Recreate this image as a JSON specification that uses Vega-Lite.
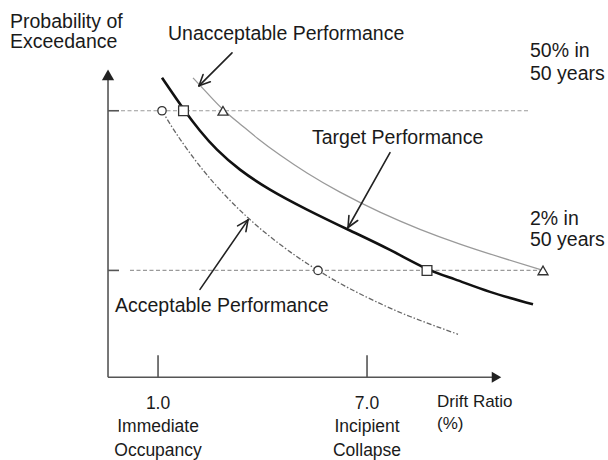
{
  "$schema": "https://vega.github.io/schema/vega-lite/v6.json",
  "width": 608,
  "height": 460,
  "autosize": {"type": "fit", "contains": "padding"},
  "padding": 0,
  "background": "white",
  "config": {"view": {"stroke": null}},
  "encoding": {
    "x": {"field": "x", "type": "quantitative", "scale": {"domain": [-3.537, 13.918], "nice": false, "zero": false}, "axis": null},
    "y": {"field": "y", "type": "quantitative", "scale": {"domain": [-54.7, 83.3], "nice": false, "zero": false}, "axis": null}
  },
  "layer": [
    {
      "data": {"values": [
        {"x": -0.063, "y": 50, "x2": 11.679, "y2": 50},
        {"x": 0.195, "y": 2, "x2": 12.052, "y2": 2}
      ]},
      "mark": {"type": "rule", "color": "#9a9a9a", "strokeWidth": 1.2, "strokeDash": [4, 2.5]},
      "encoding": {"x2": {"field": "x2"}, "y2": {"field": "y2"}}
    },
    {
      "data": {"values": [
        {"x": -0.436, "y": -30.1, "x2": -0.436, "y2": 59.3},
        {"x": -0.436, "y": -30.1, "x2": 10.645, "y2": -30.1},
        {"x": -0.436, "y": 50, "x2": -0.121, "y2": 50},
        {"x": -0.436, "y": 2, "x2": -0.121, "y2": 2},
        {"x": 1.0, "y": -30.1, "x2": 1.0, "y2": -23.5},
        {"x": 7.0, "y": -30.1, "x2": 7.0, "y2": -23.5}
      ]},
      "mark": {"type": "rule", "color": "#555555", "strokeWidth": 1.6},
      "encoding": {"x2": {"field": "x2"}, "y2": {"field": "y2"}}
    },
    {
      "data": {"values": [
        {"x": -0.436, "y": 60.8}
      ]},
      "mark": {"type": "point", "shape": "triangle-up", "filled": true, "color": "#222222", "size": 150, "opacity": 1}
    },
    {
      "data": {"values": [
        {"x": 10.717, "y": -30.1}
      ]},
      "mark": {"type": "point", "shape": "triangle-right", "filled": true, "color": "#222222", "size": 120, "opacity": 1}
    },
    {
      "data": {"values": [
        {"x": 2.004, "y": 59.9}, {"x": 2.434, "y": 55.07}, {"x": 2.865, "y": 50.4}, {"x": 3.353, "y": 46.04},
        {"x": 3.870, "y": 41.6}, {"x": 4.502, "y": 36.68}, {"x": 5.277, "y": 31.28}, {"x": 6.224, "y": 25.52},
        {"x": 7.372, "y": 19.52}, {"x": 8.521, "y": 14.36}, {"x": 9.669, "y": 9.92}, {"x": 10.817, "y": 5.99},
        {"x": 12.052, "y": 2.0}
      ]},
      "mark": {"type": "line", "color": "#9a9a9a", "strokeWidth": 1.3, "interpolate": "natural"}
    },
    {
      "data": {"values": [
        {"x": 1.114, "y": 50}, {"x": 1.487, "y": 43.73}, {"x": 1.918, "y": 37.25}, {"x": 2.406, "y": 30.71},
        {"x": 2.980, "y": 23.99}, {"x": 3.583, "y": 17.81}, {"x": 4.214, "y": 12.17}, {"x": 4.932, "y": 6.53},
        {"x": 5.593, "y": 2.0}, {"x": 6.368, "y": -2.71}, {"x": 7.229, "y": -7.24}, {"x": 8.234, "y": -11.86},
        {"x": 9.612, "y": -17.2}
      ]},
      "mark": {"type": "line", "color": "#666666", "strokeWidth": 1.3, "strokeDash": [5, 2, 1.5, 2], "interpolate": "natural"}
    },
    {
      "data": {"values": [
        {"x": 1.114, "y": 59.9}, {"x": 1.746, "y": 50.3}, {"x": 2.205, "y": 44.0}, {"x": 2.693, "y": 38.3},
        {"x": 3.353, "y": 32.3}, {"x": 4.214, "y": 26.3}, {"x": 5.277, "y": 20.3}, {"x": 6.511, "y": 14.0},
        {"x": 7.660, "y": 8.15}, {"x": 8.722, "y": 2.45}, {"x": 9.526, "y": -0.7}, {"x": 10.531, "y": -4.45},
        {"x": 11.765, "y": -8.2}
      ]},
      "mark": {"type": "line", "color": "#111111", "strokeWidth": 2.6, "interpolate": "natural"}
    },
    {
      "data": {"values": [
        {"x": 3.124, "y": 67.4, "x2": 2.176, "y2": 57.5},
        {"x": 2.176, "y": 57.5, "x2": 2.501, "y2": 58.73},
        {"x": 2.176, "y": 57.5, "x2": 2.294, "y2": 60.89},
        {"x": 7.660, "y": 37.4, "x2": 6.454, "y2": 14.9},
        {"x": 6.454, "y": 14.9, "x2": 6.732, "y2": 17.0},
        {"x": 6.454, "y": 14.9, "x2": 6.480, "y2": 18.5},
        {"x": 2.205, "y": -3.7, "x2": 3.583, "y2": 17.2},
        {"x": 3.583, "y": 17.2, "x2": 3.523, "y2": 13.66},
        {"x": 3.583, "y": 17.2, "x2": 3.284, "y2": 15.4}
      ]},
      "mark": {"type": "rule", "color": "#222222", "strokeWidth": 1.6, "strokeCap": "round"},
      "encoding": {"x2": {"field": "x2"}, "y2": {"field": "y2"}}
    },
    {
      "data": {"values": [
        {"x": 1.114, "y": 50}, {"x": 5.593, "y": 2}
      ]},
      "mark": {"type": "point", "shape": "circle", "filled": true, "fill": "white", "stroke": "#333333", "strokeWidth": 1.3, "size": 70, "opacity": 1}
    },
    {
      "data": {"values": [
        {"x": 1.731, "y": 50}, {"x": 8.722, "y": 2}
      ]},
      "mark": {"type": "point", "shape": "square", "filled": true, "fill": "white", "stroke": "#333333", "strokeWidth": 1.3, "size": 95, "opacity": 1}
    },
    {
      "data": {"values": [
        {"x": 2.865, "y": 50}, {"x": 12.052, "y": 2}
      ]},
      "mark": {"type": "point", "shape": "triangle-up", "filled": true, "fill": "white", "stroke": "#333333", "strokeWidth": 1.3, "size": 100, "opacity": 1}
    },
    {
      "data": {"values": [
        {"x": -3.250, "y": 74.9, "label": "Probability of"},
        {"x": -3.250, "y": 68.9, "label": "Exceedance"},
        {"x": 1.286, "y": 71.3, "label": "Unacceptable Performance"},
        {"x": 11.679, "y": 66.2, "label": "50% in"},
        {"x": 11.679, "y": 59.3, "label": "50 years"},
        {"x": 5.420, "y": 40.1, "label": "Target Performance"},
        {"x": 11.679, "y": 15.8, "label": "2% in"},
        {"x": 11.679, "y": 9.2, "label": "50 years"},
        {"x": -0.235, "y": -10.6, "label": "Acceptable Performance"}
      ]},
      "mark": {"type": "text", "align": "left", "baseline": "alphabetic", "font": "Liberation Sans", "fontSize": 19.5, "color": "#1a1a1a"},
      "encoding": {"text": {"field": "label"}}
    },
    {
      "data": {"values": [
        {"x": 1.0, "y": -39.7, "label": "1.0"},
        {"x": 1.0, "y": -46.6, "label": "Immediate"},
        {"x": 1.0, "y": -53.8, "label": "Occupancy"},
        {"x": 7.0, "y": -39.7, "label": "7.0"},
        {"x": 7.0, "y": -46.6, "label": "Incipient"},
        {"x": 7.0, "y": -53.8, "label": "Collapse"}
      ]},
      "mark": {"type": "text", "align": "center", "baseline": "alphabetic", "font": "Liberation Sans", "fontSize": 17.5, "color": "#1a1a1a"},
      "encoding": {"text": {"field": "label"}}
    },
    {
      "data": {"values": [
        {"x": 9.009, "y": -39.1, "label": "Drift Ratio"},
        {"x": 9.009, "y": -45.7, "label": "(%)"}
      ]},
      "mark": {"type": "text", "align": "left", "baseline": "alphabetic", "font": "Liberation Sans", "fontSize": 17, "color": "#1a1a1a"},
      "encoding": {"text": {"field": "label"}}
    }
  ]
}
